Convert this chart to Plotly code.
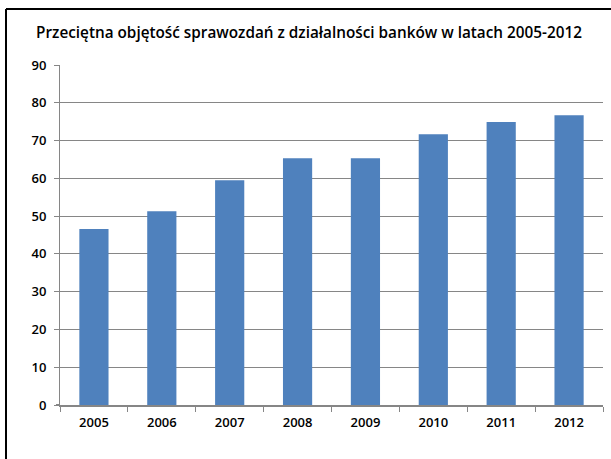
import plotly.graph_objects as go

years = ["2005", "2006", "2007", "2008", "2009", "2010", "2011", "2012"]
values = [46.6, 51.3, 59.5, 65.3, 65.3, 71.7, 74.9, 76.7]
title_text = "Przeciętna objętość sprawozdań z działalności banków w latach 2005-2012"

W, H = 611, 459
L, R, T, B = 60, 8, 65, 54
pw, ph = W - L - R, H - T - B

fig = go.Figure(go.Bar(x=years, y=values, marker=dict(color="#4F81BD", line=dict(width=0)), width=0.43))

fig.update_layout(
    width=W, height=H,
    margin=dict(l=L, r=R, t=T, b=B, autoexpand=False),
    paper_bgcolor="white", plot_bgcolor="white",
    showlegend=False,
    font=dict(family="Open Sans", size=12, color="black"),
    title=dict(text=title_text, x=309 / W, xanchor="center", xref="container",
               y=(H - 33) / H, yref="container", yanchor="middle",
               font=dict(family="Open Sans", size=15.3, color="black", weight=600)),
    bargap=0.57,
)
fig.update_yaxes(range=[0, 90], dtick=10, showgrid=True, gridcolor="#868686", gridwidth=1,
                 showline=True, linecolor="#868686", linewidth=1,
                 ticks="outside", ticklen=5, tickcolor="#868686", ticklabelstandoff=5,
                 tickfont=dict(family="Open Sans", size=13, color="black", weight=600),
                 zeroline=False)
fig.update_xaxes(showline=True, linecolor="#868686", linewidth=2,
                 ticks="outside", ticklen=5, tickcolor="#868686", tickson="boundaries",
                 ticklabelstandoff=4,
                 tickfont=dict(family="Open Sans", size=13, color="black", weight=600),
                 range=[-0.5, 7.5])

# frame (left and top edges of the chart box)
x_left = (6 - L) / pw
y_top = (H - 9 - B) / ph
fig.add_shape(type="line", xref="paper", yref="paper", x0=x_left, x1=(W + 2 - L) / pw,
              y0=y_top, y1=y_top, line=dict(color="black", width=2))
fig.add_shape(type="line", xref="paper", yref="paper", x0=x_left, x1=x_left,
              y0=y_top, y1=-(B + 2) / ph, line=dict(color="black", width=2))
# short extension of the category axis to the left of the value axis
fig.add_shape(type="line", xref="paper", yref="paper", x0=-4 / pw, x1=0,
              y0=0, y1=0, line=dict(color="#868686", width=2))

fig.write_html("out.html")
